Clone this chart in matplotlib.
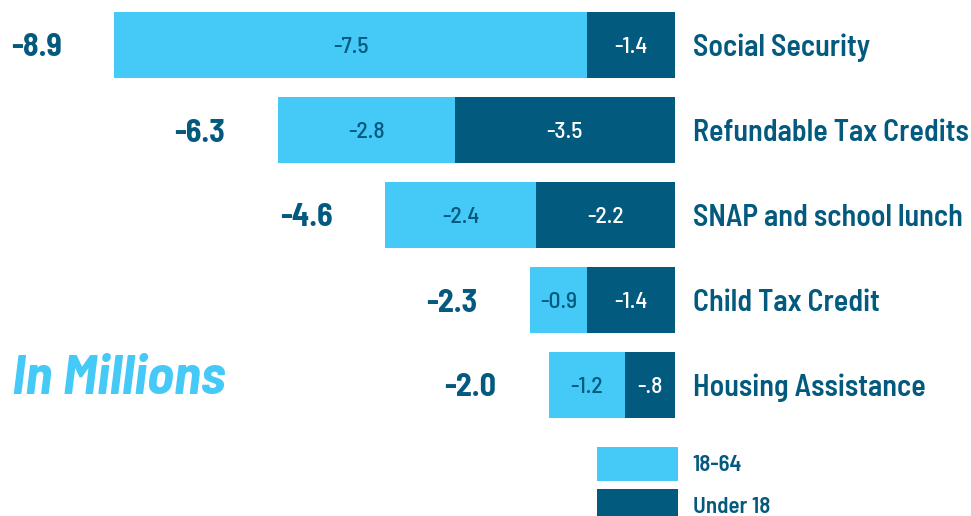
import matplotlib.pyplot as plt
from matplotlib import font_manager

# data
programs = ["Social Security", "Refundable Tax Credits", "SNAP and school lunch",
            "Child Tax Credit", "Housing Assistance"]
adults = [-7.5, -2.8, -2.4, -0.9, -1.2]      # 18-64
children = [-1.4, -3.5, -2.2, -1.4, -0.8]    # Under 18
totals = [-8.9, -6.3, -4.6, -2.3, -2.0]
adult_labels = ["-7.5", "-2.8", "-2.4", "-0.9", "-1.2"]
child_labels = ["-1.4", "-3.5", "-2.2", "-1.4", "-.8"]
total_labels = ["-8.9", "-6.3", "-4.6", "-2.3", "-2.0"]

LIGHT = '#45C9F6'
DARK = '#025B7E'
TXT = '#045A7E'

# condensed font if we have one
names = {f.name for f in font_manager.fontManager.ttflist}
cands = ['Barlow Semi Condensed', 'Barlow Condensed', 'Roboto Condensed',
         'Liberation Sans Narrow', 'DejaVu Sans']
FONT = [c for c in cands if c in names][0]
plt.rcParams['font.family'] = [FONT, 'DejaVu Sans']

W, H = 971, 516
fig = plt.figure(figsize=(W / 100, H / 100), dpi=100)
ax = fig.add_axes([0, 0, 1, 1])

# pixel layout: zero line at x=675, ~63 px per million
px_per = 63.0
zero_px = 675
ax.set_xlim(-zero_px / px_per, (W - zero_px) / px_per)
ax.set_ylim(H, 0)
ax.axis('off')

ypos = [45 + i * 85 for i in range(len(programs))]
bh = 66

b1 = ax.barh(ypos, children, height=bh, color=DARK, label='Under 18')
b2 = ax.barh(ypos, adults, left=children, height=bh, color=LIGHT, label='18-64')

for i, y in enumerate(ypos):
    ax.text(children[i] / 2, y, child_labels[i], ha='center', va='center_baseline',
            color='white', fontsize=17, fontweight='medium')
    ax.text(children[i] + adults[i] / 2, y, adult_labels[i], ha='center',
            va='center_baseline', color=TXT, fontsize=17, fontweight='medium')
    ax.annotate(total_labels[i], xy=(totals[i], y), xytext=(-38, 0),
                textcoords='offset points', ha='right', va='center_baseline',
                color=TXT, fontsize=23, fontweight='bold')
    ax.annotate(programs[i], xy=(0, y), xytext=(13, 0), textcoords='offset points',
                ha='left', va='center_baseline', color=TXT, fontsize=21.5,
                fontweight='semibold')

ax.text(12 / W, 1 - 394 / H, "In Millions", transform=ax.transAxes,
        ha='left', va='baseline', color=LIGHT, fontsize=40,
        fontweight='bold', fontstyle='italic')

leg = ax.legend(handles=[b2, b1], loc='upper left',
                bbox_to_anchor=(597 / W, 1 - 447 / H), frameon=False,
                prop={'size': 16.5, 'weight': 'semibold'}, borderpad=0, borderaxespad=0,
                handlelength=3.55, handleheight=1.88, handletextpad=0.62,
                labelspacing=0.36)
for t in leg.get_texts():
    t.set_color(TXT)

fig.savefig('out.png', dpi=100)
